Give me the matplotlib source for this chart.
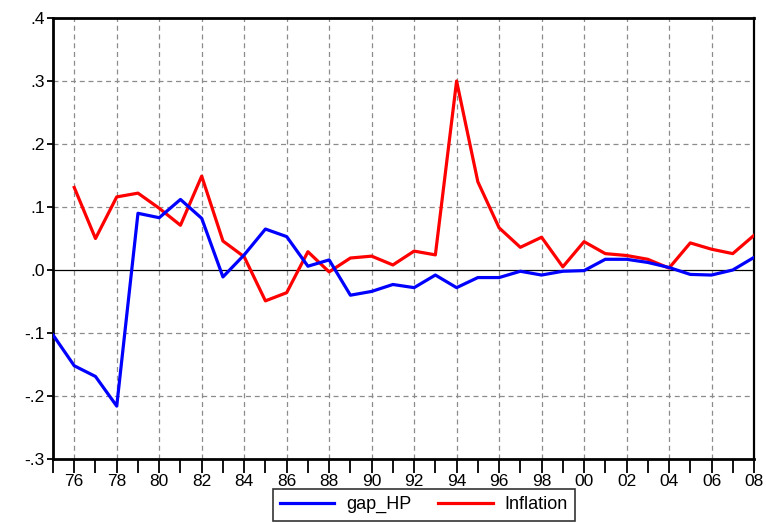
import matplotlib
matplotlib.use('Agg')
import matplotlib.pyplot as plt
from matplotlib.ticker import MultipleLocator, FuncFormatter

plt.rcParams['font.family'] = ['Liberation Sans', 'DejaVu Sans']

# annual series, 1975-2008
years = list(range(1975, 2009))
gap_hp = [-0.103, -0.152, -0.169, -0.216, 0.090, 0.083, 0.112, 0.082, -0.011, 0.024,
          0.065, 0.053, 0.006, 0.016, -0.040, -0.034, -0.023, -0.028, -0.008, -0.028,
          -0.012, -0.012, -0.002, -0.008, -0.002, -0.001, 0.017, 0.017, 0.012, 0.004,
          -0.007, -0.008, 0.000, 0.020]
infl_years = list(range(1976, 2009))
inflation = [0.131, 0.050, 0.116, 0.122, 0.098, 0.071, 0.149, 0.046, 0.021, -0.049,
             -0.036, 0.029, -0.003, 0.019, 0.022, 0.008, 0.030, 0.024, 0.300, 0.140,
             0.067, 0.036, 0.052, 0.005, 0.045, 0.026, 0.023, 0.017, 0.003, 0.043,
             0.033, 0.026, 0.055]

fig = plt.figure(figsize=(7.66, 5.23), dpi=100)
ax = fig.add_axes([53 / 766, 1 - 459 / 523, 701 / 766, 441 / 523])

ax.plot(years, gap_hp, color='#0000ff', lw=2.3, label='gap_HP', zorder=4)
ax.plot(infl_years, inflation, color='#ff0000', lw=2.3, label='Inflation', zorder=3)
ax.axhline(0, color='black', lw=0.9, zorder=2)

ax.set_xlim(1975, 2008)
ax.set_ylim(-0.3, 0.4)

ax.xaxis.set_major_locator(MultipleLocator(2))
ax.xaxis.set_minor_locator(MultipleLocator(1))
ax.xaxis.set_major_formatter(FuncFormatter(lambda v, p: '%02d' % (int(round(v)) % 100)))
ax.yaxis.set_major_locator(MultipleLocator(0.1))


def short_fmt(v, p):
    s = '%.1f' % v
    if s == '-0.0':
        s = '0.0'
    return s.replace('0.', '.', 1)


ax.yaxis.set_major_formatter(FuncFormatter(short_fmt))

ax.tick_params(axis='x', which='both', direction='out', length=10, width=1.3,
               labelsize=12.5, pad=1)
ax.tick_params(axis='y', direction='out', length=4, width=1.3, labelsize=12.5, pad=2)
ax.tick_params(axis='y', which='minor', left=False)

# dashed grid at each labelled year and every .1
for yr in range(1976, 2008, 2):
    ax.axvline(yr, color='#8c8c8c', lw=0.9, ls=(0, (4, 3)), zorder=1)
for yv in [-0.2, -0.1, 0.1, 0.2, 0.3]:
    ax.axhline(yv, color='#8c8c8c', lw=0.9, ls=(0, (4, 3)), zorder=1)

for side in ['left', 'bottom', 'top']:
    ax.spines[side].set_linewidth(2)
ax.spines['right'].set_linewidth(1.6)

leg = ax.legend(loc='upper left', bbox_to_anchor=(220 / 701, -30 / 441), ncol=2,
                borderaxespad=0, frameon=True, fancybox=False, fontsize=13,
                handlelength=3.0, columnspacing=1.5, borderpad=0.4,
                handletextpad=0.65)
leg.get_frame().set_edgecolor('black')
leg.get_frame().set_linewidth(1.2)

fig.savefig('out.png', dpi=100)
